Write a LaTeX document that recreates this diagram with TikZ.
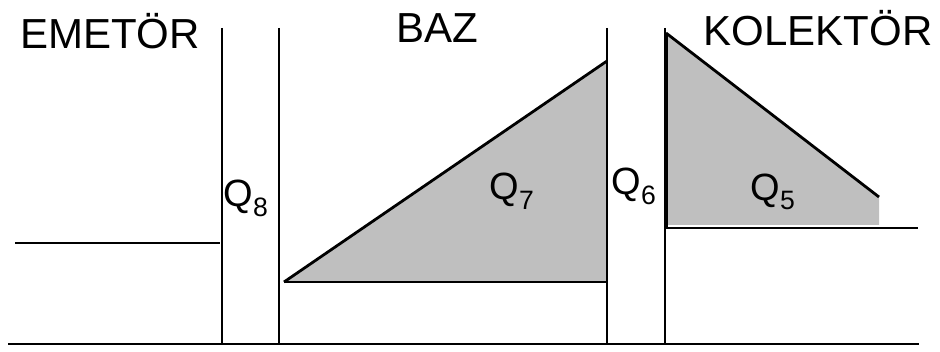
\documentclass[tikz,border=0pt]{standalone}
\usepackage{fontspec}
\setmainfont{Liberation Sans}
\begin{document}
\begin{tikzpicture}[x=1pt,y=-1pt,
  wall/.style={line width=2.8pt,black},
  region/.style={fill=black!25},
  big/.style={font=\fontsize{42}{42}\selectfont,inner sep=0pt},
  qlab/.style={font=\fontsize{38}{38}\selectfont,inner sep=0pt}]
\useasboundingbox (0,0) rectangle (940,352);
% coordinates
\coordinate (b0) at (8,344);
\coordinate (b1) at (919,344);
\coordinate (v1t) at (222,28); \coordinate (v1b) at (222,344);
\coordinate (v2t) at (279,28); \coordinate (v2b) at (279,344);
\coordinate (v3t) at (607,28); \coordinate (v3b) at (607,344);
\coordinate (v4t) at (665,28); \coordinate (v4b) at (665,344);
\coordinate (e0) at (15,243); \coordinate (e1) at (220,243);
\coordinate (t7a) at (284,282); \coordinate (t7b) at (607,282); \coordinate (t7c) at (607,61);
\coordinate (t5a) at (666,33); \coordinate (t5b) at (879,197);
\coordinate (t5c) at (879,225); \coordinate (t5d) at (666,225);
\coordinate (c0) at (666,228); \coordinate (c1) at (918,228);
% fills
\fill[region] (t7a) -- (t7c) -- (t7b) -- cycle;
\fill[region] (t5a) -- (t5b) -- (t5c) -- (t5d) -- cycle;
% lines
\draw[wall] (b0) -- (b1);
\draw[wall] (v1t) -- (v1b);
\draw[wall] (v2t) -- (v2b);
\draw[wall] (v3t) -- (v3b);
\draw[wall] (v4t) -- (v4b);
\draw[wall] (e0) -- (e1);
\draw[wall] (t7a) -- (t7b);
\draw[wall] (t7a) -- (t7c);
\draw[wall] (t5a) -- (t5b);
\draw[wall] (c0) -- (c1);
\draw[line width=3.6pt] (t5a) -- (c0);
% labels
\node[big] (em) at (110,31) {EMETÖR};
\node[big] (baz) at (437,28) {BAZ};
\node[big] (kol) at (818,28) {KOLEKTÖR};
\node[qlab] (q8) at (246,198) {Q\textsubscript{8}};
\node[qlab] (q7) at (512,191) {Q\textsubscript{7}};
\node[qlab] (q6) at (634,186) {Q\textsubscript{6}};
\node[qlab] (q5) at (773,192) {Q\textsubscript{5}};
\end{tikzpicture}
\end{document}
